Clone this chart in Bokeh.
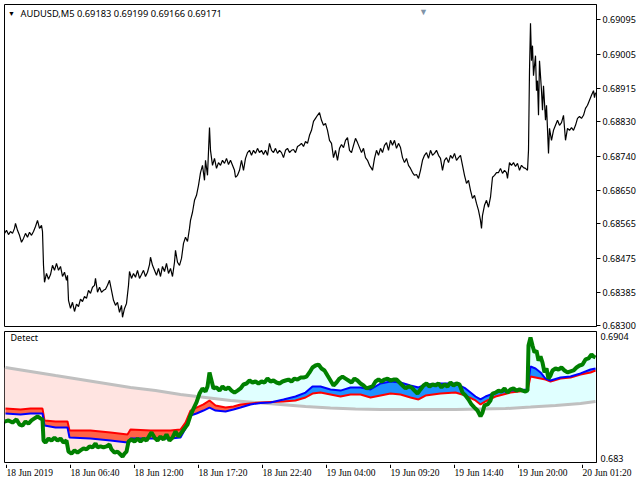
import numpy as np
from bokeh.plotting import figure
from bokeh.layouts import column
from bokeh.models import Range1d, FixedTicker, NumeralTickFormatter, Label
from bokeh.embed import file_html
from bokeh.resources import INLINE

FONT = "Noto Sans"
FS = "9px"

# ---------------- data ----------------
title_text = "AUDUSD,M5  0.69183 0.69199 0.69166 0.69171"
panel_name = "Detect"

# time axis: bar index (M5 bars) and tick labels
time_tick_bars = [0, 64, 128, 192, 256, 320, 384, 448, 512, 576]
time_tick_labels = ["18 Jun 2019", "18 Jun 06:40", "18 Jun 12:00", "18 Jun 17:20", "18 Jun 22:40",
                    "19 Jun 04:00", "19 Jun 09:20", "19 Jun 14:40", "19 Jun 20:00", "20 Jun 01:20"]
price_ticks = [0.68300, 0.68385, 0.68475, 0.68565, 0.68650, 0.68740, 0.68830, 0.68915, 0.69005, 0.69095]
detect_ticks = [0.683, 0.6904]

# upper panel: close price
price_bar = [-2, 0, 2, 4, 6, 8, 9, 11, 13, 15, 17, 19, 21, 23, 25, 27, 29, 31, 33, 35, 36, 37, 38, 40, 42,
             44, 46, 48, 50, 52, 54, 56, 58, 60, 61, 62, 64, 66, 68, 70, 72, 74, 76, 78, 80, 82, 84, 86, 88,
             89, 91, 93, 95, 97, 99, 101, 103, 105, 107, 109, 111, 113, 115, 116, 118, 120, 122, 123, 125,
             127, 129, 131, 133, 135, 137, 139, 141, 143, 144, 146, 148, 150, 152, 154, 156, 158, 160, 162,
             164, 166, 168, 169, 171, 173, 175, 177, 179, 181, 183, 184, 186, 188, 190, 192, 194, 196, 198,
             199, 201, 203, 204, 206, 208, 210, 212, 214, 216, 218, 220, 222, 224, 226, 228, 229, 231, 233,
             235, 237, 239, 241, 243, 245, 247, 249, 251, 253, 255, 257, 259, 261, 263, 265, 267, 269, 271,
             273, 275, 277, 279, 281, 283, 285, 287, 289, 291, 293, 295, 297, 299, 301, 303, 305, 307, 309,
             311, 313, 315, 317, 319, 321, 323, 325, 327, 329, 331, 333, 335, 337, 339, 341, 343, 345, 347,
             349, 351, 353, 355, 357, 359, 361, 363, 365, 366, 368, 370, 372, 374, 376, 378, 380, 382, 384,
             386, 388, 390, 392, 394, 396, 398, 400, 402, 404, 406, 408, 410, 412, 414, 416, 418, 420, 422,
             424, 426, 428, 430, 432, 434, 436, 438, 440, 442, 444, 446, 448, 450, 452, 454, 456, 458, 460,
             462, 464, 466, 468, 470, 472, 474, 475, 476, 478, 480, 482, 484, 486, 488, 490, 492, 494, 496,
             498, 500, 501, 503, 505, 507, 509, 511, 513, 515, 517, 519, 521, 522, 523, 524, 525, 526, 527,
             529, 530, 531, 532, 533, 535, 536, 537, 539, 540, 542, 543, 545, 547, 549, 551, 553, 555, 557,
             559, 561, 563, 565, 567, 569, 571, 573, 575, 577, 579, 581, 583, 585, 587, 588, 589]
price_close = [0.68539, 0.68547, 0.68536, 0.68544, 0.68539, 0.68552, 0.68565, 0.68547, 0.68534, 0.68516,
               0.68526, 0.68539, 0.68529, 0.68542, 0.68534, 0.68544, 0.68557, 0.68573, 0.68552, 0.68560,
               0.68544, 0.68456, 0.68412, 0.68435, 0.68420, 0.68432, 0.68456, 0.68443, 0.68461, 0.68443,
               0.68453, 0.68427, 0.68438, 0.68417, 0.68430, 0.68365, 0.68344, 0.68360, 0.68336, 0.68355,
               0.68349, 0.68368, 0.68362, 0.68375, 0.68370, 0.68391, 0.68383, 0.68399, 0.68404, 0.68422,
               0.68386, 0.68399, 0.68386, 0.68391, 0.68394, 0.68404, 0.68417, 0.68391, 0.68365, 0.68352,
               0.68360, 0.68334, 0.68352, 0.68321, 0.68344, 0.68357, 0.68404, 0.68440, 0.68422, 0.68435,
               0.68425, 0.68443, 0.68422, 0.68432, 0.68443, 0.68427, 0.68438, 0.68458, 0.68477, 0.68456,
               0.68443, 0.68430, 0.68448, 0.68427, 0.68453, 0.68440, 0.68461, 0.68435, 0.68448, 0.68427,
               0.68464, 0.68495, 0.68464, 0.68456, 0.68474, 0.68513, 0.68529, 0.68518, 0.68552, 0.68573,
               0.68594, 0.68625, 0.68638, 0.68664, 0.68697, 0.68716, 0.68677, 0.68729, 0.68690, 0.68814,
               0.68755, 0.68716, 0.68734, 0.68708, 0.68723, 0.68716, 0.68729, 0.68721, 0.68734, 0.68718,
               0.68729, 0.68716, 0.68703, 0.68685, 0.68690, 0.68703, 0.68729, 0.68703, 0.68734, 0.68749,
               0.68755, 0.68742, 0.68755, 0.68747, 0.68760, 0.68749, 0.68755, 0.68744, 0.68755, 0.68742,
               0.68773, 0.68755, 0.68749, 0.68760, 0.68747, 0.68755, 0.68749, 0.68736, 0.68755, 0.68760,
               0.68749, 0.68755, 0.68757, 0.68749, 0.68765, 0.68768, 0.68773, 0.68765, 0.68778, 0.68773,
               0.68794, 0.68807, 0.68830, 0.68838, 0.68846, 0.68853, 0.68833, 0.68820, 0.68825, 0.68807,
               0.68781, 0.68773, 0.68736, 0.68755, 0.68729, 0.68760, 0.68770, 0.68762, 0.68781, 0.68788,
               0.68755, 0.68749, 0.68768, 0.68786, 0.68775, 0.68762, 0.68749, 0.68760, 0.68736, 0.68729,
               0.68716, 0.68708, 0.68703, 0.68734, 0.68755, 0.68742, 0.68760, 0.68749, 0.68768, 0.68775,
               0.68755, 0.68781, 0.68768, 0.68781, 0.68760, 0.68773, 0.68762, 0.68736, 0.68723, 0.68734,
               0.68716, 0.68708, 0.68697, 0.68690, 0.68692, 0.68682, 0.68703, 0.68729, 0.68742, 0.68749,
               0.68734, 0.68755, 0.68742, 0.68747, 0.68755, 0.68742, 0.68734, 0.68703, 0.68729, 0.68736,
               0.68723, 0.68742, 0.68734, 0.68747, 0.68729, 0.68736, 0.68742, 0.68716, 0.68690, 0.68669,
               0.68677, 0.68651, 0.68630, 0.68638, 0.68617, 0.68599, 0.68573, 0.68552, 0.68586, 0.68612,
               0.68625, 0.68607, 0.68633, 0.68685, 0.68690, 0.68697, 0.68697, 0.68708, 0.68695, 0.68703,
               0.68697, 0.68682, 0.68723, 0.68716, 0.68723, 0.68713, 0.68721, 0.68703, 0.68716, 0.68710,
               0.68708, 0.68703, 0.68755, 0.68962, 0.69085, 0.68988, 0.69027, 0.68949, 0.69001, 0.68910,
               0.68936, 0.68846, 0.68988, 0.68910, 0.68859, 0.68923, 0.68833, 0.68872, 0.68747, 0.68812,
               0.68781, 0.68807, 0.68820, 0.68833, 0.68820, 0.68827, 0.68846, 0.68781, 0.68812, 0.68807,
               0.68814, 0.68807, 0.68820, 0.68838, 0.68843, 0.68838, 0.68846, 0.68864, 0.68872, 0.68885,
               0.68898, 0.68910, 0.68892, 0.68905]

# lower panel "Detect": green line
green_bar = [-2, 2, 6, 10, 13, 16, 19, 22, 25, 28, 31, 34, 36, 37, 39, 42, 45, 48, 51, 54, 57, 60, 62, 65,
             68, 71, 74, 77, 80, 83, 86, 89, 91, 94, 97, 100, 103, 105, 108, 111, 114, 116, 118, 120, 122,
             125, 128, 131, 134, 137, 140, 143, 145, 148, 151, 154, 157, 160, 163, 166, 169, 172, 175, 178,
             181, 184, 187, 190, 193, 196, 199, 201, 203, 205, 207, 210, 213, 216, 219, 222, 225, 228, 231,
             234, 237, 240, 243, 246, 249, 252, 255, 258, 261, 264, 267, 270, 273, 276, 279, 282, 285, 288,
             291, 294, 297, 300, 303, 306, 309, 312, 315, 318, 321, 324, 327, 330, 333, 336, 339, 342, 345,
             348, 351, 354, 357, 360, 363, 366, 369, 372, 375, 378, 381, 384, 387, 390, 393, 396, 399, 402,
             405, 408, 411, 414, 417, 420, 423, 426, 429, 432, 435, 438, 441, 444, 447, 450, 453, 456, 459,
             462, 465, 468, 471, 474, 476, 478, 481, 484, 486, 489, 492, 495, 498, 501, 504, 507, 510, 513,
             516, 519, 521, 522, 524, 526, 528, 530, 532, 534, 536, 538, 540, 542, 544, 546, 549, 552, 555,
             558, 561, 564, 567, 570, 573, 576, 579, 582, 585, 587, 589]
green_val = [0.68524, 0.68531, 0.68518, 0.68537, 0.68506, 0.68500, 0.68524, 0.68512, 0.68531, 0.68543,
             0.68555, 0.68543, 0.68537, 0.68409, 0.68397, 0.68421, 0.68409, 0.68427, 0.68409, 0.68421,
             0.68397, 0.68409, 0.68342, 0.68330, 0.68349, 0.68336, 0.68349, 0.68361, 0.68355, 0.68373,
             0.68367, 0.68391, 0.68367, 0.68373, 0.68367, 0.68373, 0.68385, 0.68355, 0.68336, 0.68342,
             0.68324, 0.68312, 0.68330, 0.68342, 0.68403, 0.68415, 0.68403, 0.68421, 0.68403, 0.68421,
             0.68409, 0.68440, 0.68458, 0.68427, 0.68409, 0.68433, 0.68415, 0.68446, 0.68409, 0.68427,
             0.68464, 0.68433, 0.68458, 0.68482, 0.68506, 0.68561, 0.68603, 0.68640, 0.68694, 0.68725,
             0.68706, 0.68737, 0.68822, 0.68773, 0.68725, 0.68731, 0.68712, 0.68737, 0.68719, 0.68731,
             0.68712, 0.68700, 0.68712, 0.68725, 0.68749, 0.68755, 0.68773, 0.68761, 0.68767, 0.68755,
             0.68767, 0.68761, 0.68785, 0.68767, 0.68773, 0.68761, 0.68755, 0.68767, 0.68773, 0.68779,
             0.68767, 0.68785, 0.68779, 0.68791, 0.68791, 0.68797, 0.68822, 0.68852, 0.68864, 0.68870,
             0.68846, 0.68834, 0.68803, 0.68773, 0.68743, 0.68761, 0.68785, 0.68797, 0.68785, 0.68773,
             0.68761, 0.68785, 0.68773, 0.68755, 0.68743, 0.68725, 0.68731, 0.68737, 0.68767, 0.68779,
             0.68767, 0.68779, 0.68785, 0.68773, 0.68779, 0.68779, 0.68761, 0.68743, 0.68725, 0.68737,
             0.68731, 0.68712, 0.68694, 0.68719, 0.68743, 0.68755, 0.68737, 0.68749, 0.68743, 0.68755,
             0.68731, 0.68749, 0.68737, 0.68761, 0.68743, 0.68755, 0.68749, 0.68700, 0.68682, 0.68658,
             0.68628, 0.68609, 0.68591, 0.68555, 0.68579, 0.68622, 0.68628, 0.68652, 0.68694, 0.68700,
             0.68712, 0.68706, 0.68725, 0.68700, 0.68719, 0.68725, 0.68712, 0.68719, 0.68712, 0.68706,
             0.68712, 0.68985, 0.69034, 0.68985, 0.68943, 0.68955, 0.68894, 0.68919, 0.68882, 0.68822,
             0.68846, 0.68785, 0.68803, 0.68834, 0.68846, 0.68840, 0.68852, 0.68834, 0.68822, 0.68828,
             0.68834, 0.68852, 0.68864, 0.68870, 0.68901, 0.68907, 0.68931, 0.68919, 0.68913]

# lower panel: red and blue lines (shared bars)
band_bar = [-1, 14, 24, 36, 38, 49, 61, 63, 84, 104, 121, 124, 144, 164, 174, 179, 184, 190, 197, 203,
            209, 219, 227, 234, 244, 254, 264, 277, 289, 299, 306, 314, 324, 334, 344, 354, 364, 374, 384,
            394, 404, 412, 419, 434, 449, 459, 469, 474, 479, 489, 504, 521, 524, 529, 534, 539, 544, 554,
            564, 574, 584, 589]
red_val = [0.68603, 0.68597, 0.68603, 0.68603, 0.68531, 0.68524, 0.68524, 0.68470, 0.68470, 0.68458,
           0.68446, 0.68476, 0.68470, 0.68470, 0.68476, 0.68518, 0.68591, 0.68609, 0.68628, 0.68652,
           0.68622, 0.68609, 0.68615, 0.68628, 0.68634, 0.68640, 0.68643, 0.68646, 0.68652, 0.68670,
           0.68694, 0.68700, 0.68688, 0.68676, 0.68688, 0.68688, 0.68670, 0.68682, 0.68694, 0.68688,
           0.68670, 0.68658, 0.68682, 0.68694, 0.68700, 0.68682, 0.68652, 0.68628, 0.68646, 0.68676,
           0.68700, 0.68712, 0.68797, 0.68791, 0.68785, 0.68779, 0.68767, 0.68785, 0.68791, 0.68810,
           0.68822, 0.68834]
blue_val = [0.68573, 0.68567, 0.68573, 0.68573, 0.68500, 0.68488, 0.68488, 0.68427, 0.68421, 0.68409,
            0.68397, 0.68421, 0.68421, 0.68421, 0.68427, 0.68482, 0.68561, 0.68573, 0.68591, 0.68609,
            0.68591, 0.68585, 0.68597, 0.68609, 0.68628, 0.68637, 0.68640, 0.68658, 0.68676, 0.68700,
            0.68737, 0.68737, 0.68719, 0.68712, 0.68731, 0.68731, 0.68719, 0.68755, 0.68767, 0.68761,
            0.68743, 0.68731, 0.68749, 0.68755, 0.68755, 0.68725, 0.68676, 0.68658, 0.68676, 0.68700,
            0.68712, 0.68719, 0.68858, 0.68846, 0.68822, 0.68785, 0.68773, 0.68791, 0.68797, 0.68816,
            0.68840, 0.68846]

# lower panel: silver baseline
gray_bar = [-1, 24, 49, 74, 99, 124, 149, 174, 199, 224, 249, 274, 299, 324, 349, 374, 399, 424, 449,
            474, 499, 524, 549, 574, 589]
gray_val = [0.68852, 0.68828, 0.68803, 0.68779, 0.68755, 0.68731, 0.68712, 0.68688, 0.68670, 0.68652,
            0.68640, 0.68628, 0.68615, 0.68606, 0.68600, 0.68597, 0.68597, 0.68597, 0.68597, 0.68600,
            0.68603, 0.68612, 0.68622, 0.68634, 0.68646]

# ---------------- figures ----------------
x_range = Range1d(-2, 590)
FRAME_W = 592
UP_H, LOW_H, TIME_H = 322, 131, 15
up_lo, up_hi = 0.68297, 0.69134
low_lo, low_hi = 0.682757, 0.690704


def style_common(p):
    p.grid.visible = False
    p.background_fill_color = "white"
    p.border_fill_color = "white"
    p.outline_line_color = "black"
    p.outline_line_width = 1


def style_yaxis(ax, tick_out, standoff):
    ax.major_tick_out = tick_out
    ax.major_tick_in = 0
    ax.minor_tick_out = 0
    ax.minor_tick_in = 0
    ax.major_label_standoff = standoff
    ax.major_label_text_font = FONT
    ax.major_label_text_font_size = FS
    ax.major_label_text_color = "black"
    ax.axis_line_color = "black"


# ---- upper price panel
p1 = figure(frame_width=FRAME_W, frame_height=UP_H, x_range=x_range, y_range=Range1d(up_lo, up_hi),
            output_backend="svg", toolbar_location=None, x_axis_location=None, y_axis_location="right",
            min_border_left=4, min_border_right=44, min_border_top=4, min_border_bottom=5)
style_common(p1)
p1.line(price_bar, price_close, line_color="black", line_width=1.2)

ya = p1.yaxis[0]
ya.ticker = FixedTicker(ticks=price_ticks)
ya.formatter = NumeralTickFormatter(format="0.00000")
style_yaxis(ya, 4, 2)

up_px = (up_hi - up_lo) / UP_H
p1.add_layout(Label(x=5, y=up_hi - 9 * up_px, text="\u25BC", text_font=FONT, text_font_size="7px",
                    text_baseline="middle", text_align="center", text_color="black"))
p1.add_layout(Label(x=14, y=up_hi - 9 * up_px, text=title_text, text_font=FONT, text_font_size="9.3px",
                    text_baseline="middle", text_color="black"))
p1.add_layout(Label(x=417, y=up_hi, text="\u25BC", text_font=FONT, text_font_size="9px",
                    text_baseline="top", text_align="center", text_color="#8094a8"))

# ---- lower indicator panel
p2 = figure(frame_width=FRAME_W, frame_height=LOW_H, x_range=x_range, y_range=Range1d(low_lo, low_hi),
            output_backend="svg", toolbar_location=None, x_axis_location=None, y_axis_location="right",
            min_border_left=4, min_border_right=44, min_border_top=0, min_border_bottom=2)
style_common(p2)

g = np.array(green_val)
gray_on_green = np.interp(green_bar, gray_bar, gray_val)
p2.varea(x=green_bar, y1=g, y2=np.maximum(gray_on_green, g), fill_color="#FFE4E1")
p2.varea(x=green_bar, y1=gray_on_green, y2=np.maximum(g, gray_on_green), fill_color="#E0FFFF")
r = np.array(red_val)
b = np.array(blue_val)
p2.varea(x=band_bar, y1=b, y2=np.maximum(r, b), fill_color="#FF6347")
p2.varea(x=band_bar, y1=r, y2=np.maximum(b, r), fill_color="#1E90FF")
p2.line(gray_bar, gray_val, line_color="#C0C0C0", line_width=3)
p2.line(band_bar, red_val, line_color="#FF0000", line_width=2)
p2.line(band_bar, blue_val, line_color="#0000FF", line_width=2)
p2.line(green_bar, green_val, line_color="#008000", line_width=4)

low_px = (low_hi - low_lo) / LOW_H
p2.add_layout(Label(x=4, y=low_hi - 6 * low_px, text=panel_name, text_font=FONT, text_font_size=FS,
                    text_baseline="middle", text_color="black"))

ya2 = p2.yaxis[0]
ya2.ticker = FixedTicker(ticks=detect_ticks)
ya2.formatter = NumeralTickFormatter(format="0.[0000]")
style_yaxis(ya2, 0, 4)

# ---- time scale strip: tick marks and left-aligned labels (1 px per bar, same origin as panels)
p3 = figure(frame_width=636, frame_height=TIME_H, x_range=Range1d(-2, 634), y_range=Range1d(0, TIME_H),
            output_backend="svg", toolbar_location=None, x_axis_location=None, y_axis_location=None,
            min_border_left=4, min_border_right=0, min_border_top=0, min_border_bottom=0)
p3.grid.visible = False
p3.outline_line_color = None
p3.background_fill_color = "white"
p3.border_fill_color = "white"
p3.segment(x0=time_tick_bars, y0=[TIME_H] * len(time_tick_bars), x1=time_tick_bars,
           y1=[TIME_H - 3.5] * len(time_tick_bars), line_color="black", line_width=1)
p3.text(x=[t for t in time_tick_bars], y=[TIME_H - 8] * len(time_tick_bars), text=time_tick_labels,
        text_font="Noto Sans", text_font_size="9.5px", text_align="left", text_baseline="middle",
        text_color="black")

layout = column(p1, p2, p3)
open("out.html", "w").write(file_html(layout, INLINE))
